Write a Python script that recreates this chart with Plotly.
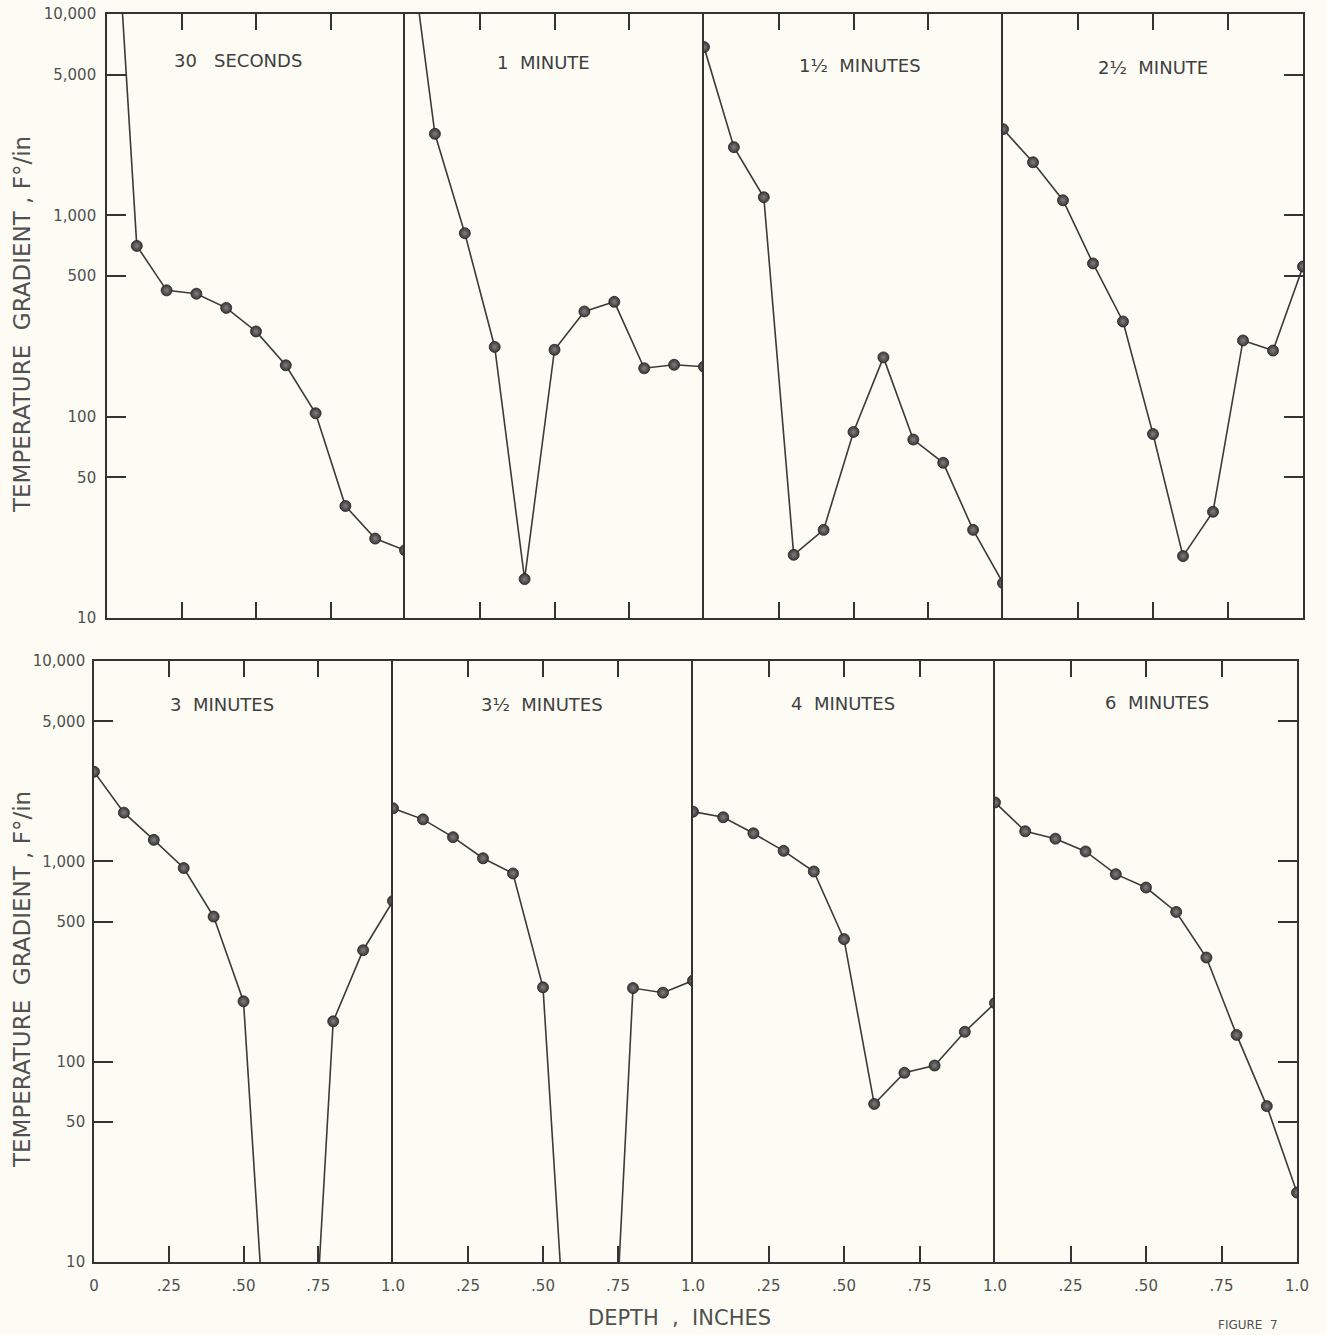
import plotly.graph_objects as go

# ---------------- data ----------------
depth = [0.0, 0.1, 0.2, 0.3, 0.4, 0.5, 0.6, 0.7, 0.8, 0.9, 1.0]

panel_titles = ["30\u00a0\u00a0\u00a0SECONDS", "1\u00a0\u00a0MINUTE", "1\u00bd\u00a0\u00a0MINUTES", "2\u00bd\u00a0\u00a0MINUTE",
                "3\u00a0\u00a0MINUTES", "3\u00bd\u00a0\u00a0MINUTES", "4\u00a0\u00a0MINUTES", "6\u00a0\u00a0MINUTES"]

g_30s = [180000, 705, 424, 408, 347, 265, 180, 104, 36, 24.8, 21.7]
g_1m = [35000, 2540, 815, 222, 15.6, 215, 333, 372, 174, 181, 177]
g_1_5m = [6850, 2180, 1230, 20.6, 27.4, 84, 197, 77, 59, 27.4, 14.9]
g_2_5m = [2680, 1835, 1188, 577, 297, 82, 20.3, 33.7, 239, 213, 557]
g_3m = [2800, 1750, 1280, 926, 530, 200, 0.9, 0.39, 159, 360, 634]
g_3_5m = [1840, 1620, 1320, 1036, 870, 235, 0.94, 0.25, 233, 221, 254]
g_4m = [1770, 1660, 1380, 1128, 890, 409, 61.5, 88, 95.7, 141, 196]
g_6m = [1968, 1413, 1297, 1120, 863, 740, 559, 331, 136, 60, 22.2]

series = [g_30s, g_1m, g_1_5m, g_2_5m, g_3m, g_3_5m, g_4m, g_6m]

y_tickvals = [10, 50, 100, 500, 1000, 5000, 10000]
y_ticktext = ["10", "50", "100", "500", "1,000", "5,000", "10,000"]
y_tickvals_right = [50, 100, 500, 1000, 5000]

x_tickvals_first = [0, 0.25, 0.5, 0.75, 1.0]
x_ticktext_first = ["0", ".25", ".50", ".75", "1.0"]
x_tickvals_rest = [0.25, 0.5, 0.75, 1.0]
x_ticktext_rest = [".25", ".50", ".75", "1.0"]
x_tickvals_top = [0.25, 0.5, 0.75]

y_title = "TEMPERATURE\u00a0\u00a0GRADIENT\u00a0,\u00a0F\u00b0/in"
x_title = "DEPTH\u00a0\u00a0,\u00a0\u00a0INCHES"
fig_label = "FIGURE\u00a0\u00a07"

# ---------------- layout geometry (pixels) ----------------
W, H = 1327, 1335
rows = [
    dict(xb=[107, 405, 704, 1003, 1303], ytop=14, ybot=618, ylab=325),
    dict(xb=[94, 393, 693, 995, 1297], ytop=661, ybot=1262, ylab=980),
]
title_pos = [(238, 60), (543, 62), (860, 66), (1153, 67),
             (222, 704), (542, 704), (843, 703), (1157, 702)]

INK = "#333333"
TXT = "#505050"
BG = "#fcfcf5"
FONT = "DejaVu Sans"

fig = go.Figure()
layout = dict(
    width=W, height=H,
    margin=dict(l=0, r=0, t=0, b=0),
    paper_bgcolor=BG, plot_bgcolor=BG,
    showlegend=False,
    template="none",
    font=dict(family=FONT, color=TXT, size=15),
)

annotations = []
for i in range(8):
    r, c = divmod(i, 4)
    geo = rows[r]
    n = i + 1
    xname = "xaxis" if n == 1 else f"xaxis{n}"
    yname = "yaxis" if n == 1 else f"yaxis{n}"
    xref = "x" if n == 1 else f"x{n}"
    yref = "y" if n == 1 else f"y{n}"

    fig.add_trace(go.Scatter(
        x=depth, y=series[i], xaxis=xref, yaxis=yref,
        mode="lines+markers",
        line=dict(color="#3a3a3a", width=1.6),
        marker=dict(size=11, color="#383838",
                    gradient=dict(type="radial", color="#808080"),
                    line=dict(color="#222222", width=0.8)),
        hoverinfo="x+y",
    ))

    xd = [geo["xb"][c] / W, geo["xb"][c + 1] / W]
    yd = [1 - geo["ybot"] / H, 1 - geo["ytop"] / H]

    xa = dict(domain=xd, anchor=yref, range=[0, 1], showgrid=False, zeroline=False,
              showline=True, linecolor=INK, linewidth=1.6, mirror="ticks",
              ticks="inside", ticklen=16, tickwidth=1.5, tickcolor=INK,
              tickmode="array", automargin=False, fixedrange=True)
    if r == 0:
        xa.update(tickvals=x_tickvals_top, showticklabels=False)
    else:
        if c == 0:
            xa.update(tickvals=x_tickvals_first, ticktext=x_ticktext_first)
        else:
            xa.update(tickvals=x_tickvals_rest, ticktext=x_ticktext_rest)
        xa.update(showticklabels=True, tickfont=dict(family=FONT, size=15, color=TXT),
                  ticklabelstandoff=9)

    ya = dict(domain=yd, anchor=xref, type="log", range=[1, 4], showgrid=False,
              zeroline=False, showline=True, linecolor=INK, linewidth=1.6,
              automargin=False, fixedrange=True, tickmode="array")
    if c == 0:
        ya.update(side="left", mirror=False, ticks="inside", ticklen=19, tickwidth=1.5,
                  tickcolor=INK, tickvals=y_tickvals, ticktext=y_ticktext, showticklabels=True,
                  tickfont=dict(family=FONT, size=15, color=TXT),
                  ticklabelstandoff=6 if r == 0 else 4)
    elif c == 3:
        ya.update(side="right", mirror=True, ticks="inside", ticklen=19, tickwidth=1.5,
                  tickcolor=INK, tickvals=y_tickvals_right, showticklabels=False)
    else:
        ya.update(side="left", mirror=False, ticks="", showticklabels=False)

    layout[xname] = xa
    layout[yname] = ya

    tx, ty = title_pos[i]
    annotations.append(dict(text=panel_titles[i], x=tx / W, y=1 - ty / H, xref="paper", yref="paper",
                            xanchor="center", yanchor="middle", showarrow=False,
                            font=dict(family=FONT, size=18, color="#404040")))

# y-axis titles (one per row)
for geo in rows:
    annotations.append(dict(text=y_title, x=22 / W, y=1 - geo["ylab"] / H, xref="paper", yref="paper",
                            xanchor="center", yanchor="middle", textangle=-90, showarrow=False,
                            font=dict(family=FONT, size=23, color=TXT)))

annotations.append(dict(text=x_title, x=679 / W, y=1 - 1318 / H, xref="paper", yref="paper",
                        xanchor="center", yanchor="middle", showarrow=False,
                        font=dict(family=FONT, size=21, color=TXT)))
annotations.append(dict(text=fig_label, x=1248 / W, y=1 - 1325 / H, xref="paper", yref="paper",
                        xanchor="center", yanchor="middle", showarrow=False,
                        font=dict(family=FONT, size=12, color=TXT)))

layout["annotations"] = annotations
fig.update_layout(**layout)

fig.write_html("out.html", config={"displayModeBar": False},
               post_script="document.body.style.margin='0';document.body.style.background='#fcfcf5';")
